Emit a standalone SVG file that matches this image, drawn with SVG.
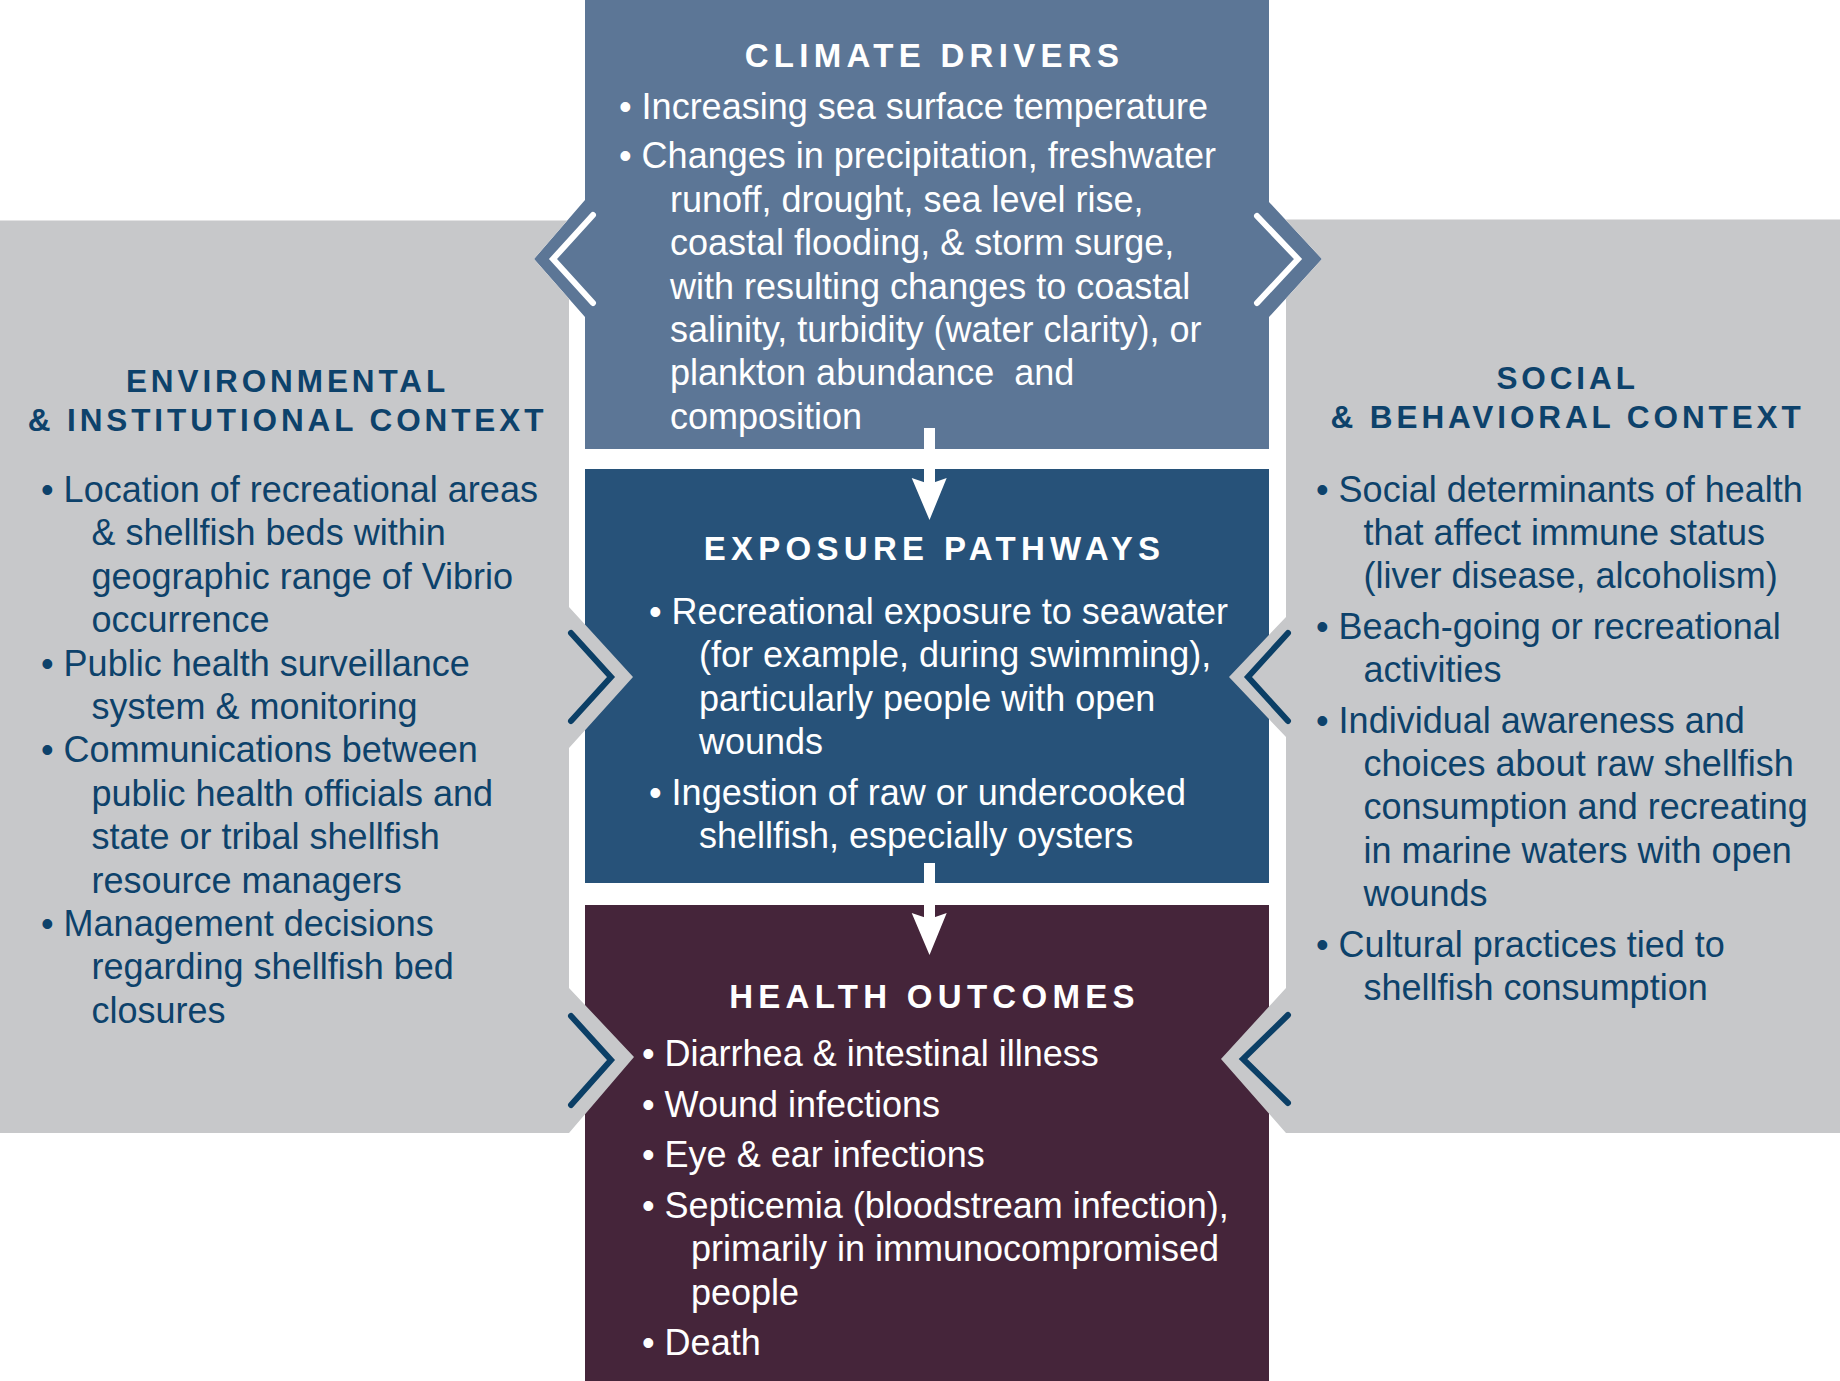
<svg xmlns="http://www.w3.org/2000/svg" width="1840" height="1381" viewBox="0 0 1840 1381">
<style>
.t{font-family:"Liberation Sans",Arial,Helvetica,sans-serif;font-size:36px;white-space:pre}
.w{fill:#ffffff}
.d{fill:#0d426b}
.h{font-family:"Liberation Sans",Arial,Helvetica,sans-serif;font-weight:bold;font-size:33px;letter-spacing:5.3px;text-anchor:middle;fill:#ffffff}
.ph{font-family:"Liberation Sans",Arial,Helvetica,sans-serif;font-weight:bold;font-size:31.5px;letter-spacing:3.9px;text-anchor:middle;fill:#0d426b}
.gray{fill:#c7c8ca}
.chw{fill:none;stroke:#ffffff;stroke-width:6;stroke-linecap:round}
.chd{fill:none;stroke:#0b3f66;stroke-width:6;stroke-linecap:round}
</style>
<rect width="1840" height="1381" fill="#ffffff"/>

<g id="climate-drivers">
<polygon fill="#5c7696" points="585,0 1269,0 1269,202 1322,259 1269,317 1269,449 585,449 585,317 534,259 585,200"/>
<polyline class="chw" points="593,215 553,259 593,303"/>
<polyline class="chw" points="1257,216 1298,259 1257,303"/>
<text class="h" x="934.5" y="66.7">CLIMATE DRIVERS</text>
<text class="t w" x="619" y="119">• Increasing sea surface temperature</text>
<text class="t w" x="619" y="168.3">• Changes in precipitation, freshwater</text>
<text class="t w" x="670" y="211.7">runoff, drought, sea level rise,</text>
<text class="t w" x="670" y="255.1">coastal flooding, &amp; storm surge,</text>
<text class="t w" x="670" y="298.5">with resulting changes to coastal</text>
<text class="t w" x="670" y="341.9">salinity, turbidity (water clarity), or</text>
<text class="t w" x="670" y="385.3">plankton abundance  and</text>
<text class="t w" x="670" y="428.7">composition</text>
</g>

<g id="exposure-pathways">
<rect fill="#275279" x="585" y="469" width="684" height="414"/>
<text class="h" x="934.5" y="559.5">EXPOSURE PATHWAYS</text>
<text class="t w" x="649" y="624">• Recreational exposure to seawater</text>
<text class="t w" x="699" y="667.4">(for example, during swimming),</text>
<text class="t w" x="699" y="710.8">particularly people with open</text>
<text class="t w" x="699" y="754.2">wounds</text>
<text class="t w" x="649" y="804.6">• Ingestion of raw or undercooked</text>
<text class="t w" x="699" y="848">shellfish, especially oysters</text>
</g>

<g id="health-outcomes">
<rect fill="#45253a" x="585" y="905" width="684" height="476"/>
<text class="h" x="934.5" y="1007.5">HEALTH OUTCOMES</text>
<text class="t w" x="642" y="1066.3">• Diarrhea &amp; intestinal illness</text>
<text class="t w" x="642" y="1116.8">• Wound infections</text>
<text class="t w" x="642" y="1167.2">• Eye &amp; ear infections</text>
<text class="t w" x="642" y="1217.7">• Septicemia (bloodstream infection),</text>
<text class="t w" x="691" y="1261.1">primarily in immunocompromised</text>
<text class="t w" x="691" y="1304.5">people</text>
<text class="t w" x="642" y="1354.9">• Death</text>
</g>

<g id="env-context">
<polygon class="gray" points="0,220.5 567.3,220.5 534,259 569,298.8 569,607 633,677 569,748 569,988 634,1057 569,1133 0,1133"/>
<polyline class="chd" points="571,633 611,677 571,721"/>
<polyline class="chd" points="571,1016 611,1060 571,1105"/>
<text class="ph" x="287.5" y="392.3">ENVIRONMENTAL</text>
<text class="ph" x="287.5" y="430.7">&amp; INSTITUTIONAL CONTEXT</text>
<text class="t d" x="41" y="502">• Location of recreational areas</text>
<text class="t d" x="91.5" y="545.4">&amp; shellfish beds within</text>
<text class="t d" x="91.5" y="588.8">geographic range of Vibrio</text>
<text class="t d" x="91.5" y="632.2">occurrence</text>
<text class="t d" x="41" y="675.6">• Public health surveillance</text>
<text class="t d" x="91.5" y="719">system &amp; monitoring</text>
<text class="t d" x="41" y="762.4">• Communications between</text>
<text class="t d" x="91.5" y="805.8">public health officials and</text>
<text class="t d" x="91.5" y="849.2">state or tribal shellfish</text>
<text class="t d" x="91.5" y="892.6">resource managers</text>
<text class="t d" x="41" y="936">• Management decisions</text>
<text class="t d" x="91.5" y="979.4">regarding shellfish bed</text>
<text class="t d" x="91.5" y="1022.8">closures</text>
</g>

<g id="social-context">
<polygon class="gray" points="1285.3,219.5 1840,219.5 1840,1133 1286,1133 1221,1059 1286,988 1286,737 1229,677 1286,617 1286,298.4 1322,259"/>
<polyline class="chd" points="1288,633 1248,677 1288,721"/>
<polyline class="chd" points="1288,1015 1243,1059 1288,1103"/>
<text class="ph" x="1567.6" y="388.6">SOCIAL</text>
<text class="ph" x="1567.6" y="427.6">&amp; BEHAVIORAL CONTEXT</text>
<text class="t d" x="1316" y="501.5">• Social determinants of health</text>
<text class="t d" x="1363.5" y="545">that affect immune status</text>
<text class="t d" x="1363.5" y="588.4">(liver disease, alcoholism)</text>
<text class="t d" x="1316" y="638.8">• Beach-going or recreational</text>
<text class="t d" x="1363.5" y="682.2">activities</text>
<text class="t d" x="1316" y="732.6">• Individual awareness and</text>
<text class="t d" x="1363.5" y="776">choices about raw shellfish</text>
<text class="t d" x="1363.5" y="819.4">consumption and recreating</text>
<text class="t d" x="1363.5" y="862.8">in marine waters with open</text>
<text class="t d" x="1363.5" y="906.2">wounds</text>
<text class="t d" x="1316" y="956.6">• Cultural practices tied to</text>
<text class="t d" x="1363.5" y="1000">shellfish consumption</text>
</g>

<g id="connectors" fill="#ffffff">
<rect x="924" y="428" width="11" height="56"/>
<path d="M911.7,478 L929.5,520 L946.7,478 L929.5,484 Z"/>
<rect x="924" y="863" width="11" height="56"/>
<path d="M911.7,913 L929.5,955 L946.7,913 L929.5,919 Z"/>
</g>
</svg>
